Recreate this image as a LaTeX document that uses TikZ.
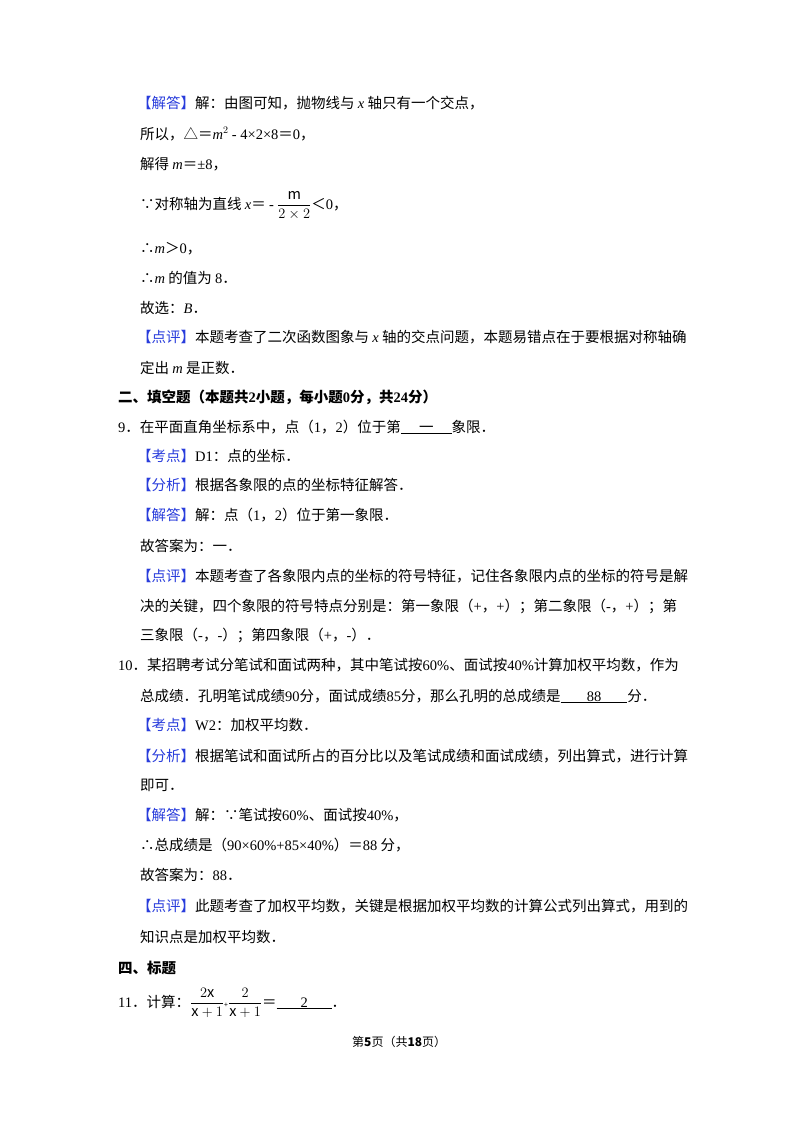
\documentclass[tikz,border=0pt]{standalone}
\usepackage{fontspec}
\setmainfont{Noto Sans CJK SC}
\newfontfamily\lat{Liberation Serif}
\newfontfamily\las{Liberation Sans}
\definecolor{kblue}{RGB}{40,60,220}
\newcommand{\kb}[1]{\textcolor{kblue}{【#1】}}
\newcommand{\li}[1]{{\lat\itshape #1}}
\newcommand{\nr}[1]{{\lat #1}}
\newcommand{\blank}[2]{\underline{\makebox[#1]{#2}}}
\begin{document}
\begin{tikzpicture}[x=1pt,y=-1pt,every node/.style={anchor=base west,inner sep=0pt,font=\fontsize{14.5}{17}\selectfont}]
\useasboundingbox (0,0) rectangle (800,1132);
\fill[white] (0,0) rectangle (800,1132);
\node (l1) at (137,108) {\kb{解答}解：由图可知，抛物线与 \li{x} 轴只有一个交点，};
\node (l2) at (140,139) {所以，△＝\li{m}\nr{$^2$} \nr{- 4×2×8}＝\nr{0}，};
\node (l3) at (140,169) {解得 \li{m}＝\nr{±8}，};
\node (l4) at (140,209) {∵对称轴为直线 \li{x}＝ \nr{-} {\las$\displaystyle\frac{\mathrm{m}}{2\times2}$}＜\nr{0}，};
\node (l5) at (140,253) {∴\li{m}＞\nr{0}，};
\node (l6) at (140,283) {∴\li{m} 的值为 \nr{8}．};
\node (l7) at (140,313) {故选：\li{B}．};
\node (l8) at (137,342) {\kb{点评}本题考查了二次函数图象与 \li{x} 轴的交点问题，本题易错点在于要根据对称轴确};
\node (l9) at (140,373) {定出 \li{m} 是正数．};
\node (h2) at (118,402) {\bfseries 二、填空题（本题共\nr{\bfseries 2}小题，每小题\nr{\bfseries 0}分，共\nr{\bfseries 24}分）};
\node (q9) at (118,432) {\nr{9}．在平面直角坐标系中，点（\nr{1}，\nr{2}）位于第\blank{3.5em}{一}象限．};
\node (k9) at (137,461) {\kb{考点}\nr{D1}：点的坐标．};
\node (f9) at (137,490) {\kb{分析}根据各象限的点的坐标特征解答．};
\node (j9) at (137,520) {\kb{解答}解：点（\nr{1}，\nr{2}）位于第一象限．};
\node (g9) at (140,551) {故答案为：一．};
\node (p9) at (137,581) {\kb{点评}本题考查了各象限内点的坐标的符号特征，记住各象限内点的坐标的符号是解};
\node (p9b) at (140,611) {决的关键，四个象限的符号特点分别是：第一象限（\nr{+}，\nr{+}）；第二象限（\nr{-}，\nr{+}）；第};
\node (p9c) at (140,640) {三象限（\nr{-}，\nr{-}）；第四象限（\nr{+}，\nr{-}）．};
\node (q10) at (118,670) {\nr{10}．某招聘考试分笔试和面试两种，其中笔试按\nr{60\%}、面试按\nr{40\%}计算加权平均数，作为};
\node (q10b) at (140,701) {总成绩．孔明笔试成绩\nr{90}分，面试成绩\nr{85}分，那么孔明的总成绩是\blank{4.6em}{\nr{88}}分．};
\node (k10) at (137,730) {\kb{考点}\nr{W2}：加权平均数．};
\node (f10) at (137,761) {\kb{分析}根据笔试和面试所占的百分比以及笔试成绩和面试成绩，列出算式，进行计算};
\node (f10b) at (140,790) {即可．};
\node (j10) at (137,820) {\kb{解答}解：∵笔试按\nr{60\%}、面试按\nr{40\%}，};
\node (j10b) at (140,850) {∴总成绩是（\nr{90×60\%+85×40\%}）＝\nr{88} 分，};
\node (g10) at (140,880) {故答案为：\nr{88}．};
\node (p10) at (137,911) {\kb{点评}此题考查了加权平均数，关键是根据加权平均数的计算公式列出算式，用到的};
\node (p10b) at (140,942) {知识点是加权平均数．};
\node (h4) at (118,973) {\bfseries 四、标题};
\node (q11) at (118,1007) {\nr{11}．计算：{\las$\displaystyle\frac{2\mathrm{x}}{\mathrm{x}+1}$}{\scriptsize +}{\las$\displaystyle\frac{2}{\mathrm{x}+1}$}＝\blank{3.8em}{\nr{2}}．};
\node[font=\fontsize{12}{14}\selectfont] (ft) at (352,1046) {第\textbf{5}页（共\textbf{18}页）};
\end{tikzpicture}
\end{document}
